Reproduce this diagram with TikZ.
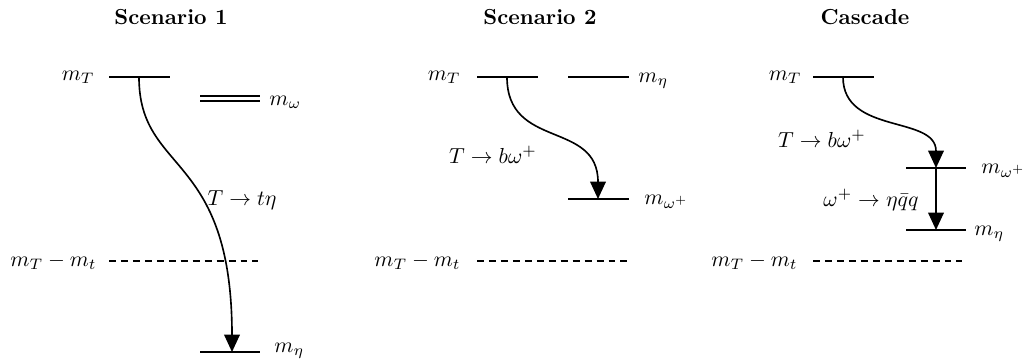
\documentclass[tikz,border=0pt]{standalone}
\usetikzlibrary{arrows.meta}
\begin{document}
\begin{tikzpicture}[x=0.46pt,y=-0.46pt,
  level/.style={line width=0.9pt},
  thin level/.style={line width=0.6pt},
  thr/.style={line width=0.8pt,dash pattern=on 3.2pt off 2.3pt},
  decay/.style={line width=0.75pt,-{Triangle[length=8pt,width=7.2pt]}},
  lbl/.style={inner sep=0pt,font=\fontsize{10.3}{12}\selectfont},
  title/.style={inner sep=0pt,font=\bfseries}]
\useasboundingbox (0,0) rectangle (1023,362);
% ---------- Scenario 1 ----------
\node[title] (t1) at (171,17) {Scenario 1};
\coordinate (a1) at (109,77); \coordinate (a2) at (170,77);
\draw[level] (a1) -- (a2);
\node[lbl,anchor=base east] (lT1) at (95,80) {$m_T$};
\coordinate (w1) at (200,96); \coordinate (w2) at (260,96);
\coordinate (w3) at (200,101); \coordinate (w4) at (260,101);
\draw[thin level] (w1) -- (w2);
\draw[thin level] (w3) -- (w4);
\node[lbl,anchor=base west] (lw1) at (269,105) {$m_\omega$};
\coordinate (d1) at (109,261); \coordinate (d2) at (258,261);
\draw[thr] (d1) -- (d2);
\node[lbl,anchor=base east] (ld1) at (97,266) {$m_T - m_t$};
\coordinate (e1) at (200,352); \coordinate (e2) at (260,352);
\draw[level] (e1) -- (e2);
\node[lbl,anchor=base west] (le1) at (274,352) {$m_\eta$};
\coordinate (s1a) at (139,77); \coordinate (s1b) at (232,352);
\draw[decay] (s1a) .. controls (139,175) and (232,150) .. (s1b);
\node[lbl] (lab1) at (242,200) {$T\to t\eta$};
% ---------- Scenario 2 ----------
\node[title] (t2) at (540,17) {Scenario 2};
\coordinate (b1) at (477,77); \coordinate (b2) at (538,77);
\draw[level] (b1) -- (b2);
\node[lbl,anchor=base east] (lT2) at (461,80) {$m_T$};
\coordinate (n1) at (568,77); \coordinate (n2) at (629,77);
\draw[level] (n1) -- (n2);
\node[lbl,anchor=base west] (ln2) at (638,82) {$m_\eta$};
\coordinate (o1) at (568,199); \coordinate (o2) at (629,199);
\draw[level] (o1) -- (o2);
\node[lbl,anchor=base west] (lo2) at (644,204) {$m_{\omega^+}$};
\coordinate (f1) at (477,261); \coordinate (f2) at (627,261);
\draw[thr] (f1) -- (f2);
\node[lbl,anchor=base east] (ld2) at (461,266) {$m_T - m_t$};
\coordinate (s2a) at (507,77); \coordinate (s2b) at (598,199);
\draw[decay] (s2a) .. controls (507,150) and (598,120) .. (s2b);
\node[lbl] (lab2) at (493,155) {$T\to b\omega^+$};
% ---------- Cascade ----------
\node[title] (t3) at (865,17) {Cascade};
\coordinate (c1) at (813,77); \coordinate (c2) at (874,77);
\draw[level] (c1) -- (c2);
\node[lbl,anchor=base east] (lT3) at (802,80) {$m_T$};
\coordinate (p1) at (906,168); \coordinate (p2) at (966,168);
\draw[level] (p1) -- (p2);
\node[lbl,anchor=base west] (lp3) at (981,173) {$m_{\omega^+}$};
\coordinate (q1) at (906,230); \coordinate (q2) at (966,230);
\draw[level] (q1) -- (q2);
\node[lbl,anchor=base west] (lq3) at (974,235) {$m_\eta$};
\coordinate (g1) at (813,261); \coordinate (g2) at (962,261);
\draw[thr] (g1) -- (g2);
\node[lbl,anchor=base east] (ld3) at (798,266) {$m_T - m_t$};
\coordinate (s3a) at (843,77); \coordinate (s3b) at (936,168);
\coordinate (s3c) at (936,230);
\draw[decay] (s3a) .. controls (843,135) and (936,115) .. (s3b);
\draw[decay] (s3b) -- (s3c);
\node[lbl] (lab3) at (822,139) {$T\to b\omega^+$};
\node[lbl] (lab4) at (871,200) {$\omega^+\to\eta\bar{q}q$};
\end{tikzpicture}
\end{document}
